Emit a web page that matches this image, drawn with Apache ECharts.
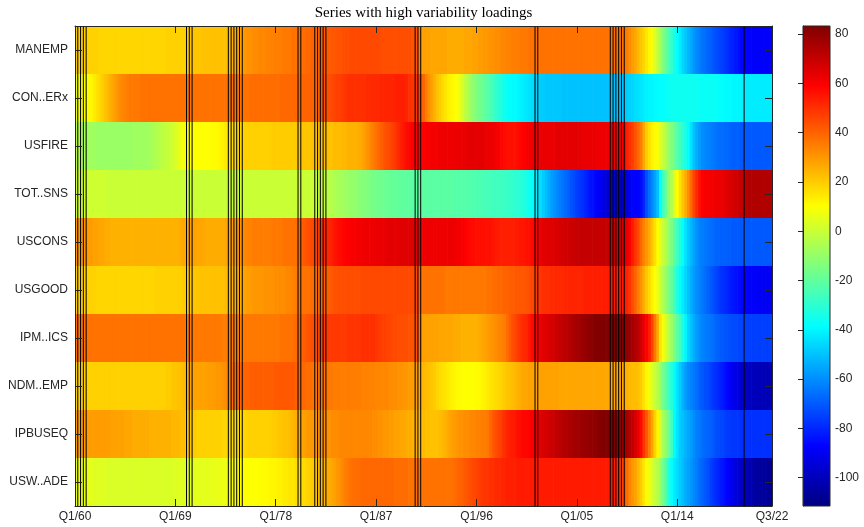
<!DOCTYPE html>
<html><head><meta charset="utf-8">
<script src="https://cdn.jsdelivr.net/npm/echarts@6/dist/echarts.min.js"></script>
<style>html,body{margin:0;padding:0;background:#fff}#c{width:864px;height:527px}</style>
</head><body><div id="c"></div>
<script>
// ---------------- DATA ----------------
const seriesNames = ['MANEMP','CON..ERx','USFIRE','TOT..SNS','USCONS','USGOOD','IPM..ICS','NDM..EMP','IPBUSEQ','USW..ADE'];
const firstQuarter = '1960Q1';
const lastQuarter = '2022Q3';

const MANEMP = [
20,20,19,19,19,19,19,19,19,18,
18,18,18,18,18,18,18,18,18,18,
18,18,18,18,18,18,18,18,18,18,
18,18,18,19,19,19,19,19,19,19,
20,21,21,21,21,21,22,22,22,22,
22,22,22,22,22,23,24,26,27,28,
29,30,31,31,32,32,33,33,33,34,
34,34,35,35,35,36,36,36,37,37,
37,38,38,39,39,40,40,40,41,41,
41,42,42,42,43,43,44,44,44,45,
45,45,45,45,45,45,45,45,45,45,
44,44,44,44,44,44,44,44,44,44,
44,43,43,40,31,28,28,28,27,27,
27,27,27,27,26,26,26,26,26,26,
27,27,27,28,28,29,29,30,30,31,
31,32,32,33,33,34,34,35,35,35,
36,36,36,37,37,37,37,37,37,37,
37,37,37,37,37,37,37,37,37,37,
37,37,37,37,37,37,37,37,37,37,
37,37,37,37,37,37,37,37,35,32,
29,27,24,21,18,15,12,9,4,-2,
-8,-14,-19,-24,-29,-34,-38,-42,-46,-49,
-52,-55,-58,-61,-63,-65,-66,-68,-69,-71,
-72,-74,-75,-77,-78,-80,-81,-83,-84,-86,
-87,-87,-87,-88,-88,-88,-88,-88,-88,-88,
-88];

const CON_ERx = [
6,8,9,10,10,11,12,14,16,18,
20,22,24,26,28,30,32,33,34,35,
36,36,36,36,37,37,37,37,37,37,
37,37,37,37,37,37,37,37,37,37,
37,37,37,37,37,37,37,37,37,37,
37,37,37,37,37,37,37,37,37,37,
37,37,37,38,38,38,38,38,38,38,
38,38,38,38,39,39,39,39,39,39,
39,39,40,40,40,40,40,40,41,42,
43,44,45,46,47,47,48,49,50,50,
50,50,50,50,50,51,51,51,51,51,
52,52,52,52,52,53,53,53,53,52,
50,49,48,48,45,40,35,31,28,25,
22,20,17,15,13,12,11,10,6,2,
-2,-5,-9,-12,-14,-16,-18,-20,-22,-24,
-26,-29,-31,-33,-35,-37,-38,-39,-39,-40,
-41,-42,-43,-44,-45,-46,-47,-48,-48,-49,
-49,-49,-49,-49,-49,-50,-50,-50,-50,-50,
-50,-50,-50,-50,-50,-50,-50,-50,-50,-50,
-50,-50,-50,-50,-50,-50,-50,-49,-48,-47,
-46,-45,-44,-43,-42,-41,-40,-40,-39,-39,
-38,-38,-37,-37,-36,-36,-36,-36,-36,-36,
-36,-36,-36,-36,-37,-37,-37,-37,-37,-37,
-37,-38,-38,-39,-39,-39,-40,-40,-40,-40,
-42,-42,-42,-42,-42,-42,-42,-42,-42,-42,
-42];

const USFIRE = [
-2,-3,-5,-6,-8,-8,-8,-8,-9,-9,
-9,-9,-9,-9,-9,-9,-9,-9,-9,-9,
-9,-8,-8,-8,-8,-8,-8,-7,-6,-5,
-4,-3,-2,-1,0,1,3,5,7,8,
9,10,10,10,10,10,10,10,10,11,
11,11,12,13,14,15,16,17,17,18,
18,19,19,19,19,19,19,19,19,19,
19,20,20,20,20,20,20,20,20,20,
21,21,21,21,21,22,22,22,22,22,
22,22,22,23,23,23,24,24,25,25,
25,25,26,27,29,31,33,35,37,39,
41,43,44,45,47,49,51,53,55,57,
58,59,59,59,59,59,60,60,61,61,
61,62,62,62,62,62,62,62,63,63,
63,64,64,64,64,64,64,63,63,62,
62,61,60,58,57,56,56,56,56,57,
58,59,60,61,62,62,62,63,63,63,
63,63,63,64,64,64,64,64,64,64,
64,64,63,63,63,63,63,62,62,62,
62,62,62,62,62,62,61,60,53,50,
47,43,39,35,27,20,16,13,11,9,
4,0,-5,-10,-14,-18,-22,-26,-30,-34,
-38,-44,-50,-54,-57,-60,-61,-62,-63,-64,
-65,-66,-66,-67,-67,-68,-69,-69,-69,-70,
-70,-70,-70,-70,-70,-70,-70,-70,-70,-70,
-70];

const TOT_SNS = [
1,1,1,1,1,1,1,1,1,1,
1,1,0,0,0,0,0,0,0,0,
0,0,0,0,0,0,0,0,0,0,
0,0,0,0,0,0,0,0,0,0,
0,0,0,0,0,0,0,0,0,0,
0,0,0,0,0,0,0,0,0,0,
0,0,0,0,0,0,0,0,0,0,
0,0,0,0,0,0,0,0,0,0,
0,0,0,0,0,0,0,0,-1,-1,
-2,-3,-4,-5,-6,-7,-7,-8,-9,-10,
-10,-11,-12,-13,-13,-14,-15,-16,-16,-17,
-17,-18,-18,-19,-19,-19,-20,-20,-20,-20,
-21,-21,-21,-21,-21,-21,-21,-21,-21,-21,
-21,-21,-21,-21,-21,-21,-22,-22,-22,-22,
-22,-23,-23,-23,-24,-24,-24,-25,-25,-25,
-26,-26,-26,-27,-27,-28,-28,-29,-30,-30,
-31,-32,-34,-36,-38,-40,-43,-45,-48,-51,
-54,-57,-59,-61,-63,-65,-67,-69,-71,-73,
-75,-77,-78,-80,-82,-84,-85,-87,-89,-91,
-93,-95,-96,-97,-97,-98,-98,-97,-94,-90,
-87,-87,-87,-85,-80,-72,-66,-61,-56,-50,
-38,-26,-18,-10,-4,4,10,16,21,26,
32,39,46,51,56,59,60,60,61,61,
62,62,63,64,65,66,67,68,69,70,
72,73,74,74,74,74,74,74,74,74,
74];

const USCONS = [
30,30,30,30,30,29,29,28,28,27,
27,26,26,25,25,25,25,25,25,25,
25,25,25,25,25,25,25,25,25,25,
25,25,25,25,25,25,25,25,26,27,
27,28,28,28,27,27,27,26,26,26,
26,26,26,26,27,27,28,29,30,31,
32,33,34,34,35,35,35,35,35,35,
35,36,36,36,36,37,37,37,37,37,
38,40,42,43,44,45,46,47,48,50,
51,52,53,55,56,57,58,59,59,60,
60,61,61,61,62,62,62,62,63,63,
63,63,64,64,64,64,64,65,65,65,
65,65,65,64,62,62,62,62,62,62,
62,62,62,62,62,62,62,61,61,60,
59,58,57,57,56,56,56,56,56,56,
55,54,54,53,53,53,53,53,54,54,
55,55,56,56,57,58,60,63,64,65,
65,65,66,66,67,67,68,68,69,69,
70,70,70,70,70,70,70,70,70,70,
70,70,70,70,70,70,69,67,64,59,
54,49,45,39,34,30,26,21,16,10,
5,0,-5,-10,-15,-21,-26,-32,-38,-44,
-48,-52,-56,-59,-62,-63,-64,-65,-66,-67,
-68,-68,-69,-69,-69,-69,-70,-70,-70,-70,
-70,-70,-70,-70,-70,-70,-70,-70,-70,-70,
-70];

const USGOOD = [
19,19,19,19,19,19,19,19,18,18,
18,18,18,18,18,18,18,18,18,18,
18,18,18,18,18,18,18,18,18,19,
19,19,19,19,19,19,19,19,19,20,
21,21,21,21,21,22,22,22,22,22,
22,22,22,22,23,23,24,25,25,26,
27,28,29,29,30,30,30,30,31,31,
31,31,32,32,32,32,33,33,34,35,
36,37,37,37,37,38,38,39,39,40,
40,41,42,43,43,44,44,44,44,44,
44,44,44,45,45,45,45,45,45,45,
45,45,45,45,45,45,45,45,45,45,
45,45,45,44,38,37,37,37,37,37,
37,37,37,36,36,36,36,36,36,36,
36,36,36,36,36,36,36,36,37,37,
38,38,39,39,40,40,41,41,42,42,
42,42,43,44,45,46,48,49,50,50,
50,51,51,51,51,51,52,52,52,52,
52,52,52,53,53,53,53,53,53,53,
54,54,54,54,54,54,54,54,52,49,
44,40,35,31,26,21,17,13,10,6,
0,-5,-10,-15,-20,-26,-32,-38,-42,-46,
-50,-54,-57,-60,-62,-64,-66,-68,-70,-72,
-74,-76,-78,-79,-80,-82,-83,-84,-85,-86,
-87,-87,-88,-88,-88,-88,-89,-89,-89,-89,
-89];

const IPM_ICS = [
37,37,37,37,37,37,37,37,37,37,
37,37,37,37,37,37,37,37,37,37,
37,37,37,37,37,37,37,37,37,37,
37,37,37,37,37,37,37,37,37,37,
37,36,36,36,36,36,36,36,36,36,
36,36,36,35,35,35,35,35,35,35,
35,36,36,36,36,36,36,36,36,36,
36,36,36,36,37,37,37,37,37,38,
39,40,41,42,43,44,44,45,46,47,
47,48,48,48,48,48,48,48,49,49,
49,49,49,50,50,50,50,50,49,48,
47,47,46,46,45,45,44,44,44,44,
43,43,43,42,33,28,28,28,28,28,
28,27,27,27,27,27,26,26,26,25,
25,25,25,25,25,26,27,28,29,30,
31,32,33,34,35,38,41,44,46,48,
50,51,52,55,57,59,61,63,64,65,
66,67,68,69,70,71,72,73,74,75,
76,77,78,79,80,81,82,83,83,83,
83,83,83,83,83,83,83,82,80,78,
76,74,72,68,63,59,54,46,36,26,
15,8,2,-3,-9,-15,-20,-26,-33,-40,
-46,-50,-54,-57,-60,-62,-63,-64,-65,-66,
-68,-69,-70,-71,-71,-72,-73,-73,-74,-74,
-74,-75,-75,-75,-75,-75,-75,-75,-75,-75,
-75];

const NDM_EMP = [
19,19,19,19,19,19,19,19,19,19,
19,19,19,19,19,19,19,19,19,19,
19,19,19,19,19,19,19,19,19,19,
19,19,19,20,20,21,21,22,22,23,
26,27,27,28,28,28,28,28,29,29,
29,30,30,31,32,34,36,38,39,40,
40,40,40,41,41,41,41,41,41,41,
41,41,42,42,42,42,42,42,42,41,
40,39,39,38,38,37,37,37,36,36,
36,36,36,35,35,35,35,35,35,35,
35,35,35,34,34,34,34,34,33,33,
33,33,33,32,32,32,31,31,30,30,
29,29,28,28,25,24,23,22,21,20,
18,17,16,15,14,13,12,11,11,10,
10,10,10,10,11,11,12,13,14,15,
16,17,18,19,20,21,22,23,24,25,
26,27,27,28,28,28,28,28,28,28,
28,28,28,28,27,27,27,27,27,27,
27,27,27,27,27,27,27,27,27,27,
27,27,27,27,27,27,27,26,25,24,
23,23,22,20,16,12,8,4,0,-4,
-10,-16,-22,-27,-32,-38,-43,-48,-53,-57,
-60,-62,-64,-66,-69,-70,-72,-73,-75,-77,
-78,-80,-82,-84,-86,-88,-91,-92,-94,-96,
-98,-99,-99,-100,-100,-100,-101,-101,-101,-101,
-101];

const IPBUSEQ = [
29,29,29,29,29,29,29,29,29,29,
29,29,29,28,28,28,28,28,27,27,
27,26,26,26,26,26,26,25,25,25,
25,25,25,25,25,24,24,24,23,23,
22,21,20,20,19,19,19,19,19,19,
19,19,19,18,18,17,17,17,17,17,
18,18,19,19,19,19,19,19,19,19,
19,20,20,21,21,22,22,23,24,25,
26,27,28,29,30,30,30,31,31,31,
31,31,32,32,32,33,33,33,33,33,
33,33,33,33,33,33,33,32,32,31,
31,30,30,29,29,28,28,27,27,26,
26,25,25,24,23,23,22,22,22,22,
22,23,24,25,27,28,29,30,31,31,
32,32,33,33,34,34,35,35,36,39,
42,44,46,48,50,52,53,54,55,56,
57,58,58,59,60,62,64,65,66,67,
68,69,70,71,72,73,74,75,75,76,
77,77,78,79,79,80,80,81,82,83,
83,83,83,83,82,81,80,78,76,73,
71,67,63,57,49,42,35,27,19,12,
2,-6,-12,-17,-27,-38,-43,-48,-50,-53,
-55,-57,-60,-63,-64,-66,-67,-68,-69,-70,
-72,-73,-74,-75,-76,-76,-77,-77,-77,-78,
-78,-78,-78,-78,-78,-78,-78,-78,-78,-78,
-78];

const USW_ADE = [
6,6,6,6,5,5,5,4,4,4,
4,4,3,3,3,3,3,3,3,3,
3,3,3,3,3,3,3,3,3,3,
3,3,3,3,3,3,4,4,4,4,
4,4,4,5,5,5,5,5,5,6,
6,6,6,7,7,8,9,9,10,10,
10,10,10,10,10,10,10,11,11,11,
12,12,12,13,13,14,14,15,15,16,
16,17,17,18,19,20,21,22,23,24,
25,26,27,28,30,31,33,35,36,37,
38,38,38,39,39,39,39,39,39,39,
39,39,39,39,39,38,38,38,38,38,
37,37,37,37,37,37,37,37,37,37,
37,37,37,37,37,37,38,39,40,41,
42,43,44,45,46,47,48,49,49,50,
50,51,51,52,52,53,53,53,53,54,
54,54,54,54,54,54,54,54,54,54,
54,54,54,54,54,54,54,54,54,54,
54,54,54,54,54,54,54,54,54,54,
54,54,54,54,53,51,48,43,38,33,
30,28,24,20,15,11,7,3,-1,-4,
-10,-16,-24,-32,-38,-42,-45,-48,-51,-54,
-56,-58,-61,-63,-66,-68,-70,-72,-75,-77,
-79,-81,-83,-85,-87,-89,-91,-94,-96,-98,
-100,-101,-102,-103,-105,-105,-106,-106,-106,-107,
-107];

const tickLabels = ['Q1/60','Q1/69','Q1/78','Q1/87','Q1/96','Q1/05','Q1/14','Q3/22'];
const tickQuarters = ['1960Q1','1969Q1','1978Q1','1987Q1','1996Q1','2005Q1','2014Q1','2022Q3'];
const recessionQuarters = ['1960Q2','1960Q3','1960Q4','1961Q1','1970Q1','1970Q2','1970Q3',
  '1973Q4','1974Q1','1974Q2','1974Q3','1974Q4','1975Q1','1980Q1','1980Q2',
  '1981Q3','1981Q4','1982Q1','1982Q2','1982Q3','1990Q3','1990Q4','1991Q1',
  '2001Q2','2001Q3','2008Q1','2008Q2','2008Q3','2008Q4','2009Q1','2009Q2','2020Q1'];
const colorLimits = [-111.5, 83.3];
const colorbarTicks = [-100,-80,-60,-40,-20,0,20,40,60,80];
const titleText = 'Series with high variability loadings';

// ---------------- BUILD ----------------
const rows = [MANEMP, CON_ERx, USFIRE, TOT_SNS, USCONS, USGOOD, IPM_ICS, NDM_EMP, IPBUSEQ, USW_ADE];
function qIndex(s){ const y = +s.slice(0,4), q = +s.slice(5); return (y - 1960) * 4 + (q - 1); }
const xMin = qIndex(firstQuarter), xMax = qIndex(lastQuarter);
const heatData = [];
rows.forEach((arr, r) => arr.forEach((v, i) => heatData.push([i, r, v])));
const tickIdx = tickQuarters.map(qIndex);
const labelMap = {}; tickIdx.forEach((t, k) => labelMap[t] = tickLabels[k]);
const recData = recessionQuarters.map(q => [qIndex(q), 0]);
const jet = ['#00007f','#0000ff','#007fff','#00ffff','#7fff7f','#ffff00','#ff7f00','#ff0000','#7f0000'];
const lens = rows.map(a => a.length);
const bad = lens.some(l => l !== xMax - xMin + 1);

const axisColor = '#262626';
const font = '"Liberation Sans", Arial, Helvetica, sans-serif';
const chart = echarts.init(document.getElementById('c'), null, {renderer: 'canvas'});
chart.setOption({
  animation: false,
  backgroundColor: '#fff',
  grid: [
    {left: 75, top: 26, width: 697, height: 480},
    {left: 803, top: 26, width: 27, height: 480}
  ],
  graphic: [{
    type: 'text', x: 423.5, y: 13, z: 100,
    style: {text: bad ? ('LEN ' + lens.join(',')) : titleText, textAlign: 'center', textVerticalAlign: 'middle',
      font: '15px "Liberation Serif", "Times New Roman", serif', fill: bad ? '#f00' : '#000'}
  }],
  xAxis: [
    {type: 'value', gridIndex: 0, min: xMin, max: xMax, position: 'bottom', z: 10,
      axisLine: {show: true, onZero: false, lineStyle: {color: axisColor, width: 1}},
      axisTick: {show: true, inside: true, length: 7, customValues: tickIdx, lineStyle: {color: axisColor}},
      axisLabel: {customValues: tickIdx, formatter: v => labelMap[v] || '', color: axisColor, fontSize: 12, fontFamily: font, margin: 5},
      splitLine: {show: false}},
    {type: 'value', gridIndex: 0, min: xMin, max: xMax, position: 'top', z: 10,
      axisLine: {show: true, onZero: false, lineStyle: {color: axisColor, width: 1}},
      axisTick: {show: true, inside: true, length: 7, customValues: tickIdx, lineStyle: {color: axisColor}},
      axisLabel: {show: false}, splitLine: {show: false}},
    {type: 'value', gridIndex: 1, min: 0, max: 1, show: false}
  ],
  yAxis: [
    {type: 'category', gridIndex: 0, data: seriesNames, inverse: true, position: 'left', z: 10,
      axisLine: {show: true, onZero: false, lineStyle: {color: axisColor, width: 1}},
      axisTick: {show: true, inside: true, alignWithLabel: true, interval: 0, length: 7, lineStyle: {color: axisColor}},
      axisLabel: {interval: 0, color: axisColor, fontSize: 12, fontFamily: font, margin: 7},
      splitLine: {show: false}},
    {type: 'category', gridIndex: 0, data: seriesNames, inverse: true, position: 'right', z: 10,
      axisLine: {show: true, onZero: false, lineStyle: {color: axisColor, width: 1}},
      axisTick: {show: true, inside: true, alignWithLabel: true, interval: 0, length: 7, lineStyle: {color: axisColor}},
      axisLabel: {show: false}, splitLine: {show: false}},
    {type: 'value', gridIndex: 1, min: colorLimits[0], max: colorLimits[1], position: 'right', z: 10,
      axisLine: {show: true, lineStyle: {color: axisColor, width: 1}},
      axisTick: {show: true, inside: true, length: 5, customValues: colorbarTicks, lineStyle: {color: axisColor}},
      axisLabel: {customValues: colorbarTicks, color: axisColor, fontSize: 12, fontFamily: font, margin: 5},
      splitLine: {show: false}}
  ],
  visualMap: {show: false, type: 'continuous', min: colorLimits[0], max: colorLimits[1], dimension: 2, seriesIndex: 0,
    inRange: {color: jet}},
  series: [
    {type: 'custom', xAxisIndex: 0, yAxisIndex: 0, data: heatData, encode: {x: 0, y: 1},
      renderItem: function (params, api) {
        const x = api.value(0), y = api.value(1);
        const a = api.coord([x - 0.5, y]);
        const b = api.coord([x + 0.5, y]);
        const sz = api.size([1, 1]);
        const cs = params.coordSys;
        const rect = echarts.graphic.clipRectByRect(
          {x: a[0], y: a[1] - sz[1] / 2, width: b[0] - a[0] + 0.7, height: sz[1] + 0.6},
          {x: cs.x, y: cs.y, width: cs.width, height: cs.height});
        return rect && {type: 'rect', shape: rect, style: {fill: api.visual('color')}};
      }},
    {type: 'custom', xAxisIndex: 0, yAxisIndex: 0, data: recData, encode: {x: 0, y: 1}, z: 5,
      renderItem: function (params, api) {
        const p = api.coord([api.value(0), 0]);
        const cs = params.coordSys;
        return {type: 'line', shape: {x1: p[0], y1: cs.y, x2: p[0], y2: cs.y + cs.height},
          style: {stroke: '#000', lineWidth: 1}};
      }},
    {type: 'custom', xAxisIndex: 2, yAxisIndex: 2, data: [[0, colorLimits[0]]], encode: {x: 0, y: 1},
      renderItem: function (params, api) {
        const top = api.coord([0, colorLimits[1]]);
        const bot = api.coord([1, colorLimits[0]]);
        const stops = jet.map((c, k) => ({offset: k / (jet.length - 1), color: c}));
        return {type: 'rect', shape: {x: top[0], y: top[1], width: bot[0] - top[0], height: bot[1] - top[1]},
          style: {fill: new echarts.graphic.LinearGradient(0, 1, 0, 0, stops), stroke: axisColor, lineWidth: 1}};
      }}
  ]
});
</script>
</body></html>
